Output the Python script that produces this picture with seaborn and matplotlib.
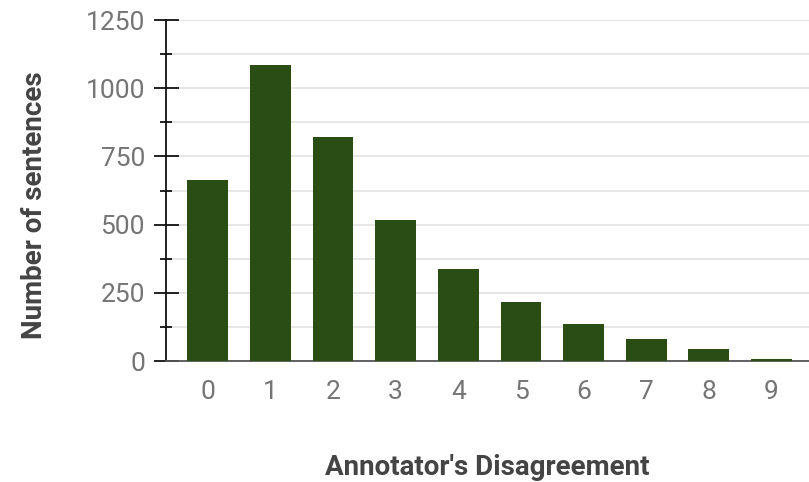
# -*- coding:utf-8 -*-

import pandas
import matplotlib.pyplot as plt
from matplotlib.ticker import MultipleLocator
import seaborn as sns

# data
disagreement = [0, 1, 2, 3, 4, 5, 6, 7, 8, 9]
sentences = [665, 1085, 822, 517, 337, 216, 134, 82, 45, 7]

bar_color = "#2a4d14"
tick_gray = "#757575"
label_gray = "#444444"


def show():
    df = pandas.DataFrame({"disagreement": disagreement, "sentences": sentences})

    sns.set_style("white")
    plt.rcParams['font.family'] = ['Roboto', 'DejaVu Sans']

    fig = plt.figure(figsize=(8.09, 4.82), dpi=100)
    ax = fig.add_axes([0.205, 0.251, 0.795, 0.7075])

    sns.barplot(data=df, x="disagreement", y="sentences", color=bar_color,
                saturation=1, width=0.65, linewidth=0, ax=ax, zorder=3)

    ax.set_ylim(0, 1250)
    ax.set_xlim(-0.67, 9.6)
    ax.yaxis.set_major_locator(MultipleLocator(250))
    ax.yaxis.set_minor_locator(MultipleLocator(125))
    ax.grid(axis="y", which="both", color="#e2e2e2", linewidth=1.2, zorder=0)
    ax.set_axisbelow(True)

    for s in ["top", "right"]:
        ax.spines[s].set_visible(False)
    ax.spines["left"].set_color("#111111")
    ax.spines["left"].set_linewidth(1.3)
    ax.spines["bottom"].set_color("#555555")
    ax.spines["bottom"].set_linewidth(1.3)

    ax.tick_params(axis="y", which="major", left=True, direction="inout", length=18,
                   width=1.3, color="#111111", labelsize=19, labelcolor=tick_gray, pad=6)
    ax.tick_params(axis="y", which="minor", left=True, direction="inout", length=8,
                   width=1.3, color="#111111")
    ax.tick_params(axis="x", length=0, labelsize=19, labelcolor=tick_gray, pad=14)

    ax.set_xlabel("Annotator's Disagreement", fontsize=20, fontweight="bold",
                  color=label_gray, labelpad=36)
    ax.set_ylabel("Number of sentences", fontsize=20, fontweight="bold",
                  color=label_gray)
    ax.yaxis.set_label_coords(-0.184, 0.4575)

    plt.savefig("out.png", dpi=100)


if __name__ == '__main__':
    show()
